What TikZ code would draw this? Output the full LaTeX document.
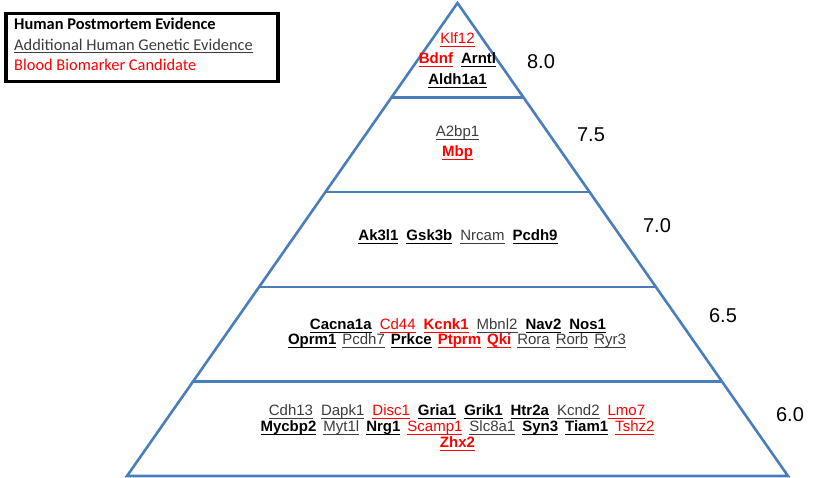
\documentclass[tikz,border=0pt]{standalone}
\usepackage{fontspec}
\setmainfont{Liberation Sans}
\newfontfamily\legendfont{Carlito}
\usetikzlibrary{calc}
\definecolor{pyrblue}{RGB}{74,126,187}
\definecolor{genegray}{RGB}{60,60,60}
\definecolor{genered}{RGB}{255,0,0}
\newcommand{\ulw}[1]{\setbox0\hbox{#1}\rlap{\rule[-2.6pt]{\wd0}{1pt}}\box0}
\newcommand{\gPM}[1]{\ulw{\textbf{#1}}}
\newcommand{\gGE}[1]{{\color{genegray}\ulw{#1}}}
\newcommand{\gBM}[1]{{\color{genered}\ulw{#1}}}
\newcommand{\gBB}[1]{{\color{genered}\ulw{\textbf{#1}}}}
\newcommand{\gs}{\hspace{8pt}}
\begin{document}
\begin{tikzpicture}[x=1pt,y=-1pt,
  pyr/.style={draw=pyrblue,line width=2.6pt,line join=miter},
  genes/.style={anchor=base,inner sep=0,font=\fontsize{15}{18}\selectfont},
  num/.style={inner sep=0,font=\fontsize{20}{24}\selectfont},
  legtext/.style={anchor=base west,inner sep=0,font=\legendfont\fontsize{16.4}{19}\selectfont},
  legbox/.style={draw=black,line width=3.5pt}]
\useasboundingbox (0,0) rectangle (823,478);
% legend
\node[legbox,minimum width=272pt,minimum height=68pt,inner sep=0,anchor=north west] (legend) at (4,12) {};
\node[legtext] (leg1) at (14,30) {\textbf{Human Postmortem Evidence}};
\node[legtext,text=genegray] (leg2) at (14,50.5) {\ulw{Additional Human Genetic Evidence}};
\node[legtext,text=genered] (leg3) at (14,71) {Blood Biomarker Candidate};
% pyramid
\coordinate (apex) at (457.5,3);
\coordinate (bl) at (127,476);
\coordinate (br) at (788,476);
\draw[pyr] (apex) -- (bl) -- (br) -- cycle;
\foreach \t in {0.2,0.4,0.6,0.8}
  \draw[pyr] ($(apex)!\t!(bl)$) -- ($(apex)!\t!(br)$);
% tier 1
\node[genes] (t1a) at (457.5,44) {\gBM{Klf12}};
\node[genes] (t1b) at (457.5,64) {\gBB{Bdnf}\gs\gPM{Arntl}};
\node[genes] (t1c) at (457.5,85) {\gPM{Aldh1a1}};
% tier 2
\node[genes] (t2a) at (457.5,137) {\gGE{A2bp1}};
\node[genes] (t2b) at (457.5,157) {\gBB{Mbp}};
% tier 3
\node[genes] (t3a) at (458,241) {\gPM{Ak3l1}\gs\gPM{Gsk3b}\gs\gGE{Nrcam}\gs\gPM{Pcdh9}};
% tier 4
\node[genes] (t4a) at (458,330) {\gPM{Cacna1a}\gs\gBM{Cd44}\gs\gBB{Kcnk1}\gs\gGE{Mbnl2}\gs\gPM{Nav2}\gs\gPM{Nos1}};
\node[genes] (t4b) at (457,345) {\gPM{Oprm1}\hspace{6pt}\gGE{Pcdh7}\hspace{6pt}\gPM{Prkce}\hspace{6pt}\gBB{Ptprm}\hspace{6pt}\gBB{Qki}\hspace{6pt}\gGE{Rora}\hspace{6pt}\gGE{Rorb}\hspace{6pt}\gGE{Ryr3}};
% tier 5
\node[genes] (t5a) at (457,416) {\gGE{Cdh13}\gs\gGE{Dapk1}\gs\gBM{Disc1}\gs\gPM{Gria1}\gs\gPM{Grik1}\gs\gPM{Htr2a}\gs\gGE{Kcnd2}\gs\gBM{Lmo7}};
\node[genes] (t5b) at (457.5,432) {\gPM{Mycbp2}\hspace{7pt}\gGE{Myt1l}\hspace{7pt}\gPM{Nrg1}\hspace{7pt}\gBM{Scamp1}\hspace{7pt}\gGE{Slc8a1}\hspace{7pt}\gPM{Syn3}\hspace{7pt}\gPM{Tiam1}\hspace{7pt}\gBM{Tshz2}};
\node[genes] (t5c) at (457.5,448) {\gBB{Zhx2}};
% scores
\node[num] (s80) at (541,62) {8.0};
\node[num] (s75) at (591,135) {7.5};
\node[num] (s70) at (657,226) {7.0};
\node[num] (s65) at (723,316) {6.5};
\node[num] (s60) at (790,415) {6.0};
\end{tikzpicture}
\end{document}
